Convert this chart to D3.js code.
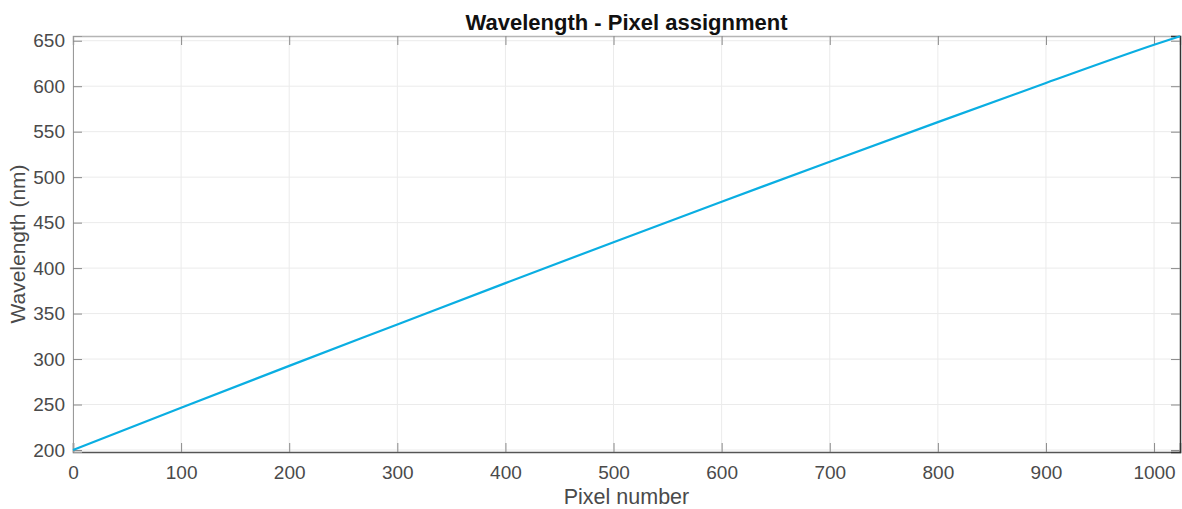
<!DOCTYPE html>
<html>
<head>
<meta charset="utf-8">
<script src="https://cdn.jsdelivr.net/npm/d3@7"></script>
<style>
body { margin: 0; background: white; }
text { font-family: "Liberation Sans", Arial, sans-serif; }
</style>
</head>
<body>
<script>
const largeur = 1182;
const hauteur = 509;

// valeurs
const pixels = [0, 100, 200, 300, 400, 500, 600, 700, 800, 900, 1000, 1024];
const longueurs = [200, 246.5, 292.5, 338, 383.5, 428.5, 473, 517, 560.5, 603.5, 645.5, 655];
const ticksX = [0, 100, 200, 300, 400, 500, 600, 700, 800, 900, 1000];
const ticksY = [200, 250, 300, 350, 400, 450, 500, 550, 600, 650];

const titre = "Wavelength - Pixel assignment";
const titreX = "Pixel number";
const titreY = "Wavelength (nm)";

const marges = { haut: 36, droite: 2, bas: 57, gauche: 73 };

const svg = d3
.select("body")
.append("svg")
.attr("width", largeur)
.attr("height", hauteur);

const x = d3.scaleLinear()
.domain([0, 1024])
.range([marges.gauche, largeur - marges.droite]);

const y = d3.scaleLinear()
.domain([197.8, 655.2])
.range([hauteur - marges.bas, marges.haut]);

const donnees = pixels.map(function(p, i)
{
    return { p: p, v: longueurs[i] };
});

// grille
svg.append("g")
.selectAll("line")
.data(ticksX)
.enter()
.append("line")
.attr("x1", function(d) { return x(d); })
.attr("x2", function(d) { return x(d); })
.attr("y1", y.range()[1])
.attr("y2", y.range()[0])
.attr("stroke", "#ebebeb")
.attr("stroke-width", 1);

svg.append("g")
.selectAll("line")
.data(ticksY)
.enter()
.append("line")
.attr("x1", x.range()[0])
.attr("x2", x.range()[1])
.attr("y1", function(d) { return y(d); })
.attr("y2", function(d) { return y(d); })
.attr("stroke", "#ebebeb")
.attr("stroke-width", 1);

// axes
const axeX = svg.append("g")
.attr("transform", "translate(0," + y.range()[0] + ")")
.call(d3.axisBottom(x).tickValues(ticksX).tickSize(-9).tickPadding(14).tickFormat(d3.format("d")));

const axeXhaut = svg.append("g")
.attr("transform", "translate(0," + y.range()[1] + ")")
.call(d3.axisTop(x).tickValues(ticksX).tickSize(-9).tickFormat(""));

const axeY = svg.append("g")
.attr("transform", "translate(" + x.range()[0] + ",0)")
.call(d3.axisLeft(y).tickValues(ticksY).tickSize(-9).tickPadding(8).tickFormat(d3.format("d")));

const axeYdroite = svg.append("g")
.attr("transform", "translate(" + x.range()[1] + ",0)")
.call(d3.axisRight(y).tickValues(ticksY).tickSize(-9).tickFormat(""));

[axeX, axeY, axeXhaut, axeYdroite].forEach(function(a)
{
    a.selectAll("text")
    .style("font-size", "19px")
    .attr("fill", "#4a4a4a");
    a.selectAll(".tick line").attr("stroke", "#8a8a8a");
});

axeX.select(".domain").attr("stroke", "#555555").attr("stroke-width", 1.5);
axeY.select(".domain").attr("stroke", "#9a9a9a");
axeXhaut.select(".domain").attr("stroke", "#b5b5b5").attr("stroke-width", 1.5);
axeYdroite.select(".domain").attr("stroke", "#333333").attr("stroke-width", 1.5);

// courbe
const ligne = d3.line()
.x(function(d) { return x(d.p); })
.y(function(d) { return y(d.v); })
.curve(d3.curveMonotoneX);

svg.append("path")
.datum(donnees)
.attr("d", ligne)
.attr("fill", "none")
.attr("stroke", "#0aaee2")
.attr("stroke-width", 2.2);

// titres
svg.append("text")
.attr("x", (x.range()[0] + x.range()[1]) / 2)
.attr("y", 30)
.attr("text-anchor", "middle")
.style("font-size", "22px")
.style("font-weight", "bold")
.attr("fill", "#111111")
.text(titre);

svg.append("text")
.attr("x", (x.range()[0] + x.range()[1]) / 2)
.attr("y", 504)
.attr("text-anchor", "middle")
.style("font-size", "21.5px")
.attr("fill", "#4a4a4a")
.text(titreX);

svg.append("text")
.attr("transform", "translate(25," + (y.range()[0] + y.range()[1]) / 2 + ") rotate(-90)")
.attr("text-anchor", "middle")
.style("font-size", "21px")
.attr("fill", "#4a4a4a")
.text(titreY);
</script>
</body>
</html>
